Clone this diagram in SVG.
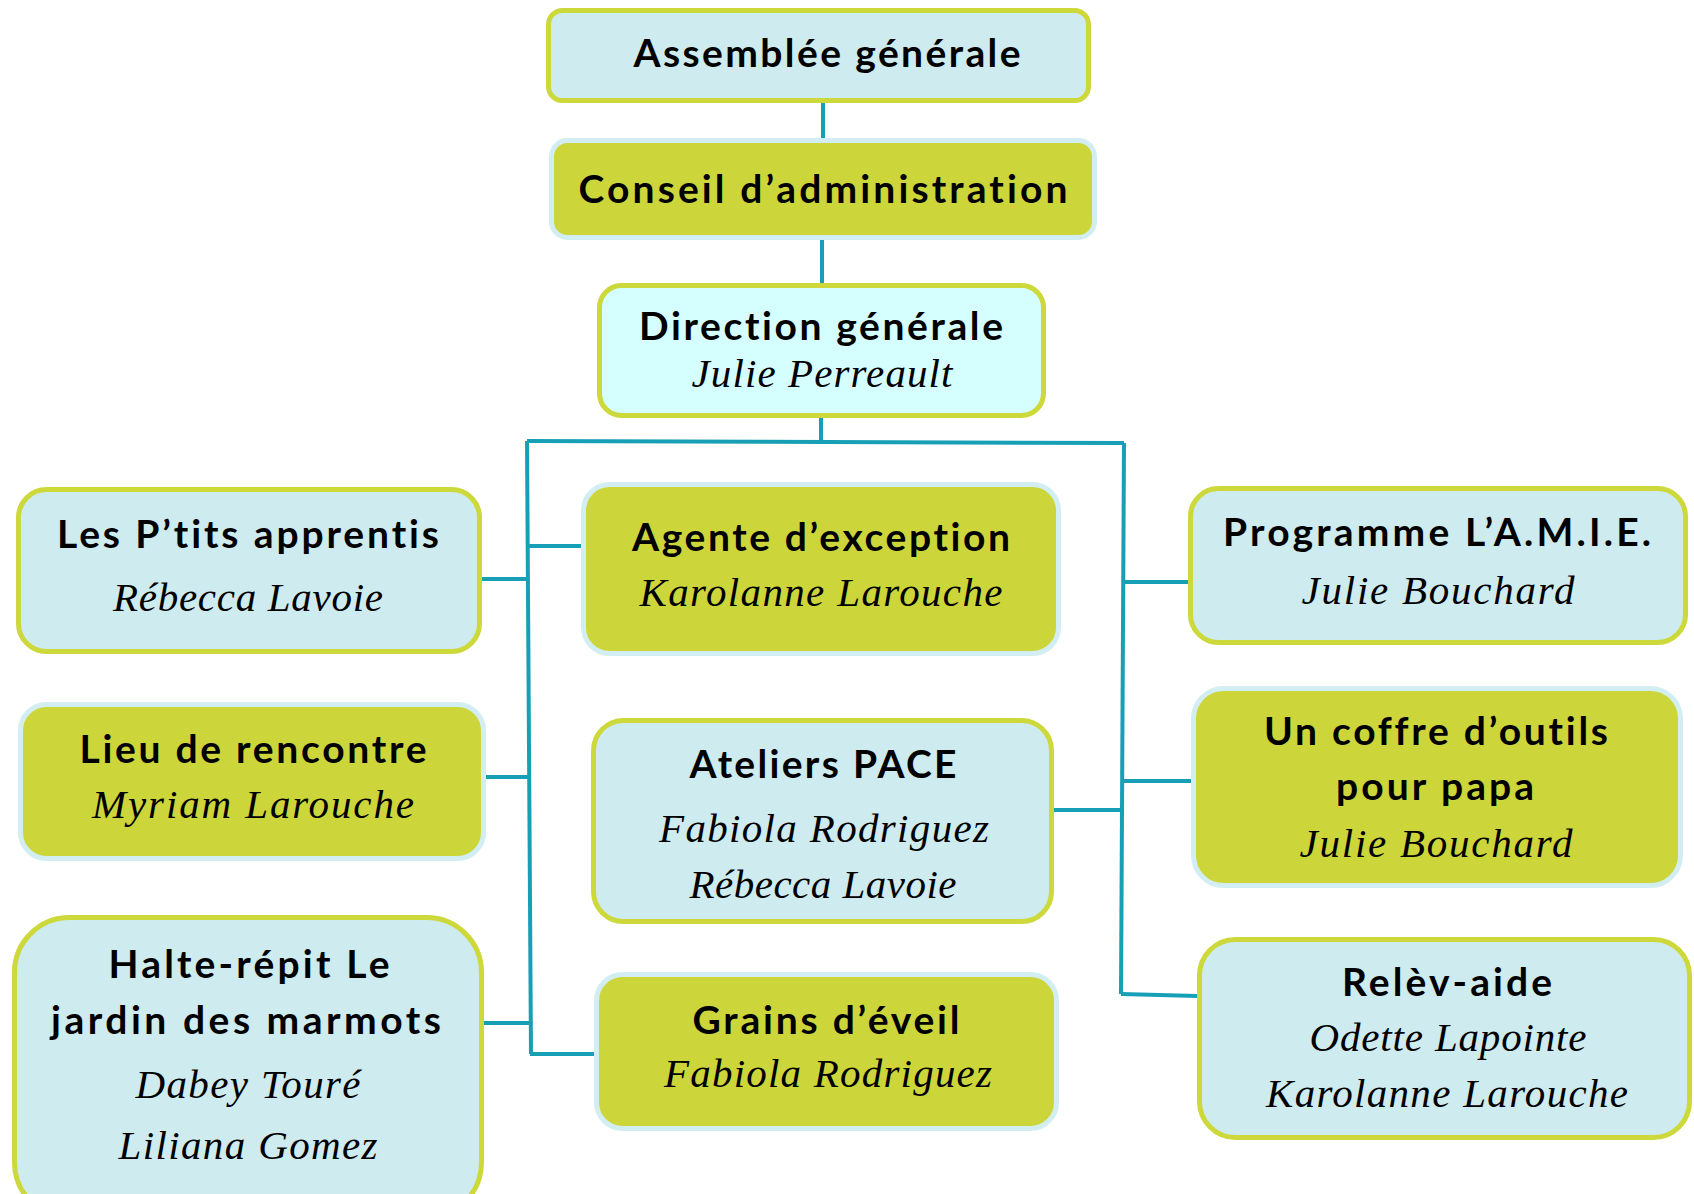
<svg xmlns="http://www.w3.org/2000/svg" width="1694" height="1194" viewBox="0 0 1694 1194">
<style>
.b1{fill:#CEEBEF;stroke:#CDD83A;stroke-width:5}
.b2{fill:#CCD63A;stroke:#D3EEF2;stroke-width:5}
.b3{fill:#D5FEFF;stroke:#CDD83A;stroke-width:5}
.h{font-family:Lato,"Open Sans","Noto Sans",sans-serif;font-weight:bold;font-size:39px;fill:#000;text-anchor:middle;font-variant-ligatures:none}
.n{font-family:"Liberation Serif","DejaVu Serif",serif;font-style:italic;font-size:41px;fill:#000;text-anchor:middle}
.c{fill:none;stroke:#17A0B5;stroke-width:4}
</style>
<rect width="1694" height="1194" fill="#fff"/>
<g id="connectors">
<path class="c" d="M823 103V138"/>
<path class="c" d="M822 240V283"/>
<path class="c" d="M821 418V442"/>
<path class="c" d="M527 441L1124 443"/>
<path class="c" d="M527 441L531 1054"/>
<path class="c" d="M1124 443L1121 994"/>
<path class="c" d="M481 579H528"/>
<path class="c" d="M528 546H581"/>
<path class="c" d="M486 777H529"/>
<path class="c" d="M484 1023H530"/>
<path class="c" d="M530 1054H594"/>
<path class="c" d="M1123 582H1188"/>
<path class="c" d="M1123 781H1191"/>
<path class="c" d="M1054 810H1123"/>
<path class="c" d="M1121 994L1197 996"/>
</g>
<g id="assemblee">
<rect class="b1" x="548.5" y="10.5" width="540" height="90" rx="14"/>
<text class="h" x="827" y="67" textLength="387">Assemblée générale</text>
</g>
<g id="conseil">
<rect class="b2" x="551.5" y="140.5" width="543" height="97" rx="16"/>
<text class="h" x="823" y="203" textLength="489">Conseil d’administration</text>
</g>
<g id="direction">
<rect class="b3" x="599.5" y="285.5" width="444" height="130" rx="22"/>
<text class="h" x="821" y="340" textLength="364">Direction générale</text>
<text class="n" x="822" y="387" textLength="261">Julie Perreault</text>
</g>
<g id="ptits">
<rect class="b1" x="18.5" y="489.5" width="461" height="162" rx="28"/>
<text class="h" x="248" y="548" textLength="382">Les P’tits apprentis</text>
<text class="n" x="248" y="611" textLength="270">Rébecca Lavoie</text>
</g>
<g id="agente">
<rect class="b2" x="583.5" y="484.5" width="475" height="169" rx="26"/>
<text class="h" x="821" y="551" textLength="378">Agente d’exception</text>
<text class="n" x="821" y="606" textLength="363">Karolanne Larouche</text>
</g>
<g id="programme">
<rect class="b1" x="1190.5" y="488.5" width="495" height="154" rx="28"/>
<text class="h" x="1437" y="546" textLength="428">Programme L’A.M.I.E.</text>
<text class="n" x="1438" y="604" textLength="273">Julie Bouchard</text>
</g>
<g id="lieu">
<rect class="b2" x="20.5" y="704.5" width="463" height="154" rx="26"/>
<text class="h" x="253" y="763" textLength="347">Lieu de rencontre</text>
<text class="n" x="253" y="818" textLength="322">Myriam Larouche</text>
</g>
<g id="ateliers">
<rect class="b1" x="593.5" y="720.5" width="458" height="201" rx="30"/>
<text class="h" x="823" y="778" textLength="267">Ateliers PACE</text>
<text class="n" x="824" y="842" textLength="330">Fabiola Rodriguez</text>
<text class="n" x="823" y="898" textLength="267">Rébecca Lavoie</text>
</g>
<g id="coffre">
<rect class="b2" x="1193.5" y="688.5" width="487" height="197" rx="30"/>
<text class="h" x="1436" y="745" textLength="344">Un coffre d’outils</text>
<text class="h" x="1435" y="800" textLength="198">pour papa</text>
<text class="n" x="1436" y="857" textLength="273">Julie Bouchard</text>
</g>
<g id="halte">
<rect class="b1" x="14.5" y="917.5" width="467" height="300" rx="55"/>
<text class="h" x="249" y="978" textLength="281">Halte-répit Le</text>
<text class="h" x="246" y="1034" textLength="390">jardin des marmots</text>
<text class="n" x="248" y="1098" textLength="225">Dabey Touré</text>
<text class="n" x="248" y="1159" textLength="259">Liliana Gomez</text>
</g>
<g id="grains">
<rect class="b2" x="596.5" y="974.5" width="460" height="154" rx="26"/>
<text class="h" x="826" y="1034" textLength="267">Grains d’éveil</text>
<text class="n" x="828" y="1087" textLength="328">Fabiola Rodriguez</text>
</g>
<g id="releve">
<rect class="b1" x="1199.5" y="939.5" width="490" height="198" rx="36"/>
<text class="h" x="1447" y="996" textLength="210">Relèv-aide</text>
<text class="n" x="1448" y="1051" textLength="277">Odette Lapointe</text>
<text class="n" x="1447" y="1107" textLength="362">Karolanne Larouche</text>
</g>
</svg>
